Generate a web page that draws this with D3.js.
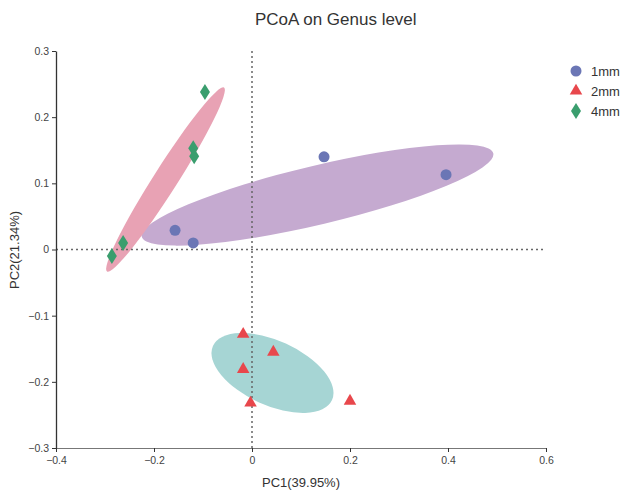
<!DOCTYPE html>
<html><head><meta charset="utf-8">
<script src="https://cdn.jsdelivr.net/npm/d3@7"></script>
<style>body{margin:0;background:#fff}svg{display:block}</style>
</head><body>
<svg id="c" width="630" height="498"></svg>
<script>
// ---- data ----
const groups = ["1mm", "2mm", "4mm"];
const pc1_1mm = [-0.157, -0.120, 0.147, 0.396];
const pc2_1mm = [0.029, 0.010, 0.140, 0.113];
const pc1_2mm = [-0.018, 0.0435, -0.018, -0.003, 0.200];
const pc2_2mm = [-0.128, -0.155, -0.181, -0.232, -0.229];
const pc1_4mm = [-0.096, -0.120, -0.118, -0.263, -0.286];
const pc2_4mm = [0.238, 0.153, 0.141, 0.010, -0.010];
// ellipses: center, tip of major semi-axis (data units), minor/major ratio
const ellCx = [0.1337, 0.0418, -0.1765];
const ellCy = [0.0823, -0.1866, 0.1057];
const ellTipX = [0.4924, 0.1633, -0.0571];
const ellTipY = [0.1453, -0.2275, 0.2447];
const ellRatio = [0.163, 0.494, 0.11];
const xTicks = [-0.4, -0.2, 0, 0.2, 0.4, 0.6];
const yTicks = [-0.3, -0.2, -0.1, 0, 0.1, 0.2, 0.3];

const pointColors = ["#6b76b5", "#e8474c", "#3a9e6e"];
const ellColors = ["#c5aad0", "#a6d5d4", "#e8a2b4"];

const svg = d3.select("#c");
const x = d3.scaleLinear().domain([-0.4, 0.6]).range([56, 546]);
const y = d3.scaleLinear().domain([-0.3, 0.3]).range([448, 51]);
const font = "'Liberation Sans', Arial, sans-serif";

// title
svg.append("text").attr("x", 255).attr("y", 25).attr("text-anchor", "start")
  .attr("font-family", font).attr("font-size", 17).attr("fill", "#333").text("PCoA on Genus level");

// ellipses (draw order: 1mm, 2mm, 4mm)
groups.forEach((g, i) => {
  const cx = x(ellCx[i]), cy = y(ellCy[i]);
  const tx = x(ellTipX[i]), ty = y(ellTipY[i]);
  const a = Math.hypot(tx - cx, ty - cy);
  const ang = Math.atan2(ty - cy, tx - cx) * 180 / Math.PI;
  svg.append("ellipse").attr("cx", 0).attr("cy", 0).attr("rx", a).attr("ry", a * ellRatio[i])
    .attr("transform", `translate(${cx},${cy}) rotate(${ang})`)
    .attr("fill", ellColors[i]);
});

// dotted zero lines
svg.append("line").attr("x1", x(0)).attr("x2", x(0)).attr("y1", y(0.3)).attr("y2", y(-0.3))
  .attr("stroke", "#666").attr("stroke-width", 1.5).attr("stroke-dasharray", "2,3");
svg.append("line").attr("x1", x(-0.4)).attr("x2", x(0.6)).attr("y1", y(0)).attr("y2", y(0))
  .attr("stroke", "#666").attr("stroke-width", 1.5).attr("stroke-dasharray", "2,3");

// axes
const fmt = d => d === 0 ? "0" : d3.format(".1f")(d);
const xAxis = svg.append("g").attr("transform", `translate(0,${y(-0.3)})`)
  .call(d3.axisBottom(x).tickValues(xTicks).tickFormat(fmt).tickSize(4).tickSizeOuter(0));
const yAxis = svg.append("g").attr("transform", `translate(${x(-0.4)},0)`)
  .call(d3.axisLeft(y).tickValues(yTicks).tickFormat(fmt).tickSize(4).tickSizeOuter(0));
xAxis.select(".domain").attr("stroke", "#777");
yAxis.select(".domain").attr("stroke", "#333").attr("stroke-width", 1.3);
[xAxis, yAxis].forEach(a => {
  a.selectAll(".tick line").attr("stroke", "#333");
  a.selectAll("text").attr("font-family", font).attr("font-size", 10.5).attr("fill", "#444");
});
xAxis.selectAll("text").attr("dy", "0.9em");

svg.append("text").attr("x", 301).attr("y", 487).attr("text-anchor", "middle")
  .attr("font-family", font).attr("font-size", 13).attr("fill", "#333").text("PC1(39.95%)");
svg.append("text").attr("transform", "translate(19,250) rotate(-90)").attr("text-anchor", "middle")
  .attr("font-family", font).attr("font-size", 13).attr("fill", "#333").text("PC2(21.34%)");

// markers
const diamond = "M0,-8L5,0L0,8L-5,0Z";
const tri = d3.symbol().type(d3.symbolTriangle).size(68)();
function marker(sel, i) {
  if (i === 0) sel.append("circle").attr("r", 5.5).attr("fill", pointColors[0]);
  else if (i === 1) sel.append("path").attr("d", tri).attr("fill", pointColors[1]);
  else sel.append("path").attr("d", diamond).attr("fill", pointColors[2]);
}
const seriesX = [pc1_1mm, pc1_2mm, pc1_4mm];
const seriesY = [pc2_1mm, pc2_2mm, pc2_4mm];
groups.forEach((g, i) => {
  seriesX[i].forEach((v, j) => {
    const gg = svg.append("g").attr("transform", `translate(${x(v)},${y(seriesY[i][j])})`);
    marker(gg, i);
  });
});

// legend
groups.forEach((g, i) => {
  const gg = svg.append("g").attr("transform", `translate(576,${71 + i * 20})`);
  marker(gg, i);
  svg.append("text").attr("x", 591).attr("y", 75.5 + i * 20).attr("font-family", font)
    .attr("font-size", 13).attr("fill", "#333").text(g);
});
</script>
</body></html>
